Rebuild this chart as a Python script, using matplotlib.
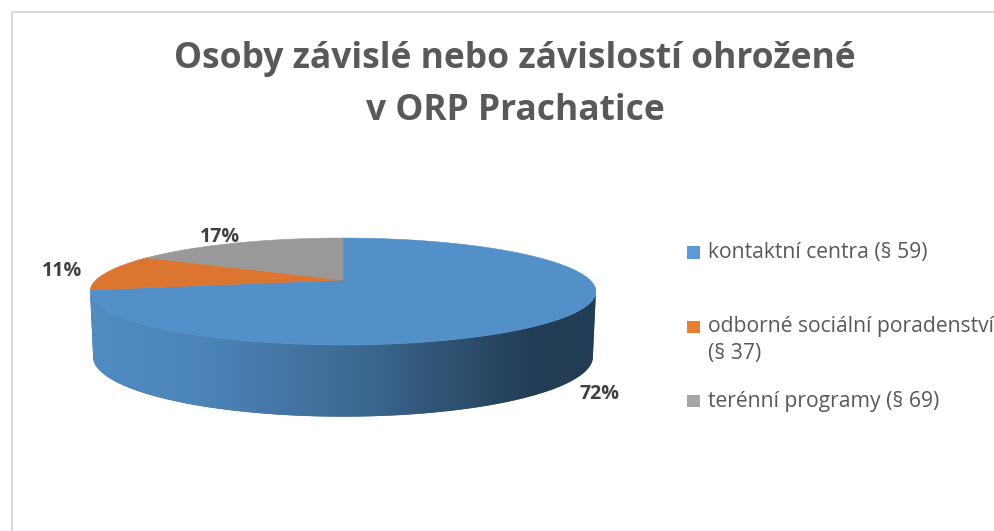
import numpy as np
import matplotlib
matplotlib.use("Agg")
import matplotlib.pyplot as plt
from matplotlib.patches import Polygon, Rectangle

# ---------------- data ----------------
categories = ["kontaktní centra (§ 59)",
              "odborné sociální poradenství\n(§ 37)",
              "terénní programy (§ 69)"]
values = [72, 11, 17]
pct_labels = ["72%", "11%", "17%"]
legend_colors = ["#5B9BD5", "#ED7D31", "#A5A5A5"]
top_colors = ["#5390C9", "#DB752F", "#999999"]
title_lines = ["Osoby závislé nebo závislostí ohrožené", "v ORP Prachatice"]

FONT = ["Open Sans", "DejaVu Sans"]

W, H = 995, 531
fig = plt.figure(figsize=(W / 100, H / 100), dpi=100)
ax = fig.add_axes([0, 0, 1, 1])
ax.set_xlim(0, W)
ax.set_ylim(H, 0)
ax.axis("off")
renderer = fig.canvas.get_renderer()


def fit_size(text, target_px, weight="normal", base=20.0):
    t = ax.text(0, 0, text, fontsize=base, fontweight=weight, family=FONT)
    w = t.get_window_extent(renderer=renderer).width
    t.remove()
    return base * target_px / w


# chart border
ax.add_patch(Rectangle((12, 12), 1000, 600, fill=False, edgecolor="#D9D9D9", lw=1.5))

# ---------------- 3D pie geometry (perspective disc) ----------------
CX = 343
TOP = dict(yc=280.0, A=247.0, B=51.0, k=0.215)
BOT = dict(yc=344.0, A=244.0, B=57.0, k=0.215)


def proj(phi, g, r=1.0):
    u = r * np.cos(phi)
    v = r * np.sin(phi)
    d = 1 + g["k"] * v
    return CX + g["A"] * u / d, g["yc"] - g["B"] * v / d


def hex_rgb(h):
    h = h.lstrip("#")
    return np.array([int(h[i:i + 2], 16) for i in (0, 2, 4)]) / 255.0


total = float(sum(values))
starts, ends = [], []
a = np.pi / 2
for v in values:
    b = a - 2 * np.pi * v / total
    starts.append(a)
    ends.append(b)
    a = b

# visible front side range (silhouette)
kk = TOP["k"]
phi_l = np.pi + np.arcsin(kk)
phi_r = 2 * np.pi - np.arcsin(kk)

shade_x = [85, 200, 360, 460, 530, 610]
shade_f = [0.97, 0.92, 0.73, 0.55, 0.43, 0.42]

# sides
for i in range(len(values)):
    s, e = starts[i], ends[i]
    for m in (-1, 0, 1):
        lo = max(e, phi_l + 2 * np.pi * m)
        hi = min(s, phi_r + 2 * np.pi * m)
        if hi <= lo:
            continue
        ph = np.linspace(lo, hi, 200)
        tx, ty = proj(ph, TOP)
        bx, by = proj(ph[::-1], BOT)
        pts = np.column_stack([np.concatenate([tx, bx]), np.concatenate([ty, by])])
        base = hex_rgb(top_colors[i])
        poly = Polygon(pts, closed=True, facecolor=base * 0.7, edgecolor="none", zorder=2)
        ax.add_patch(poly)
        xs = np.linspace(80, 615, 600)
        f = np.interp(xs, shade_x, shade_f)
        img = (base[None, :] * f[:, None])[None, :, :]
        im = ax.imshow(np.clip(img, 0, 1), extent=(80, 615, 440, 270), aspect="auto",
                       interpolation="bilinear", zorder=2.1)
        im.set_clip_path(poly)

# top faces
for i in range(len(values)):
    ph = np.linspace(starts[i], ends[i], 300)
    x, y = proj(ph, TOP)
    ax_, ay_ = proj(0.0, TOP, r=0.0)
    pts = np.column_stack([np.concatenate([[ax_], x]), np.concatenate([[ay_], y])])
    ax.add_patch(Polygon(pts, closed=True, facecolor=top_colors[i],
                         edgecolor=top_colors[i], lw=0.4, zorder=3))

# percentage labels
pct_size = fit_size("72%", 40, weight="bold")
for i in range(len(values)):
    mid = (starts[i] + ends[i]) / 2
    if np.sin(mid) < 0:
        lx, ly = proj(mid, BOT, r=1.15)
    else:
        lx, ly = proj(mid, TOP, r=1.2)
    ax.text(lx, ly, pct_labels[i], ha="center", va="center", fontsize=pct_size,
            fontweight="bold", color="#404040", family=FONT, zorder=5)

ax.set_xlim(0, W)
ax.set_ylim(H, 0)

# title
title_size = fit_size(title_lines[0], 681, weight="bold")
for j, line in enumerate(title_lines):
    ax.text(515, 68 + 52 * j, line, ha="center", va="baseline", fontsize=title_size,
            fontweight="bold", color="#595959", family=FONT)

# legend
leg_size = fit_size(categories[0], 220)
LEG_X = 687
LEG_Y0 = 252.5
LEG_DY = 74.3
SQ = 12.5
for i, lab in enumerate(categories):
    yc = LEG_Y0 + LEG_DY * i
    ax.add_patch(Rectangle((LEG_X, yc - SQ / 2), SQ, SQ, facecolor=legend_colors[i],
                           edgecolor="none"))
    for j, line in enumerate(lab.split("\n")):
        ax.text(LEG_X + 21, yc + 5.5 + 27 * j, line, ha="left", va="baseline",
                fontsize=leg_size, color="#595959", family=FONT)

fig.savefig("out.png", dpi=100)
